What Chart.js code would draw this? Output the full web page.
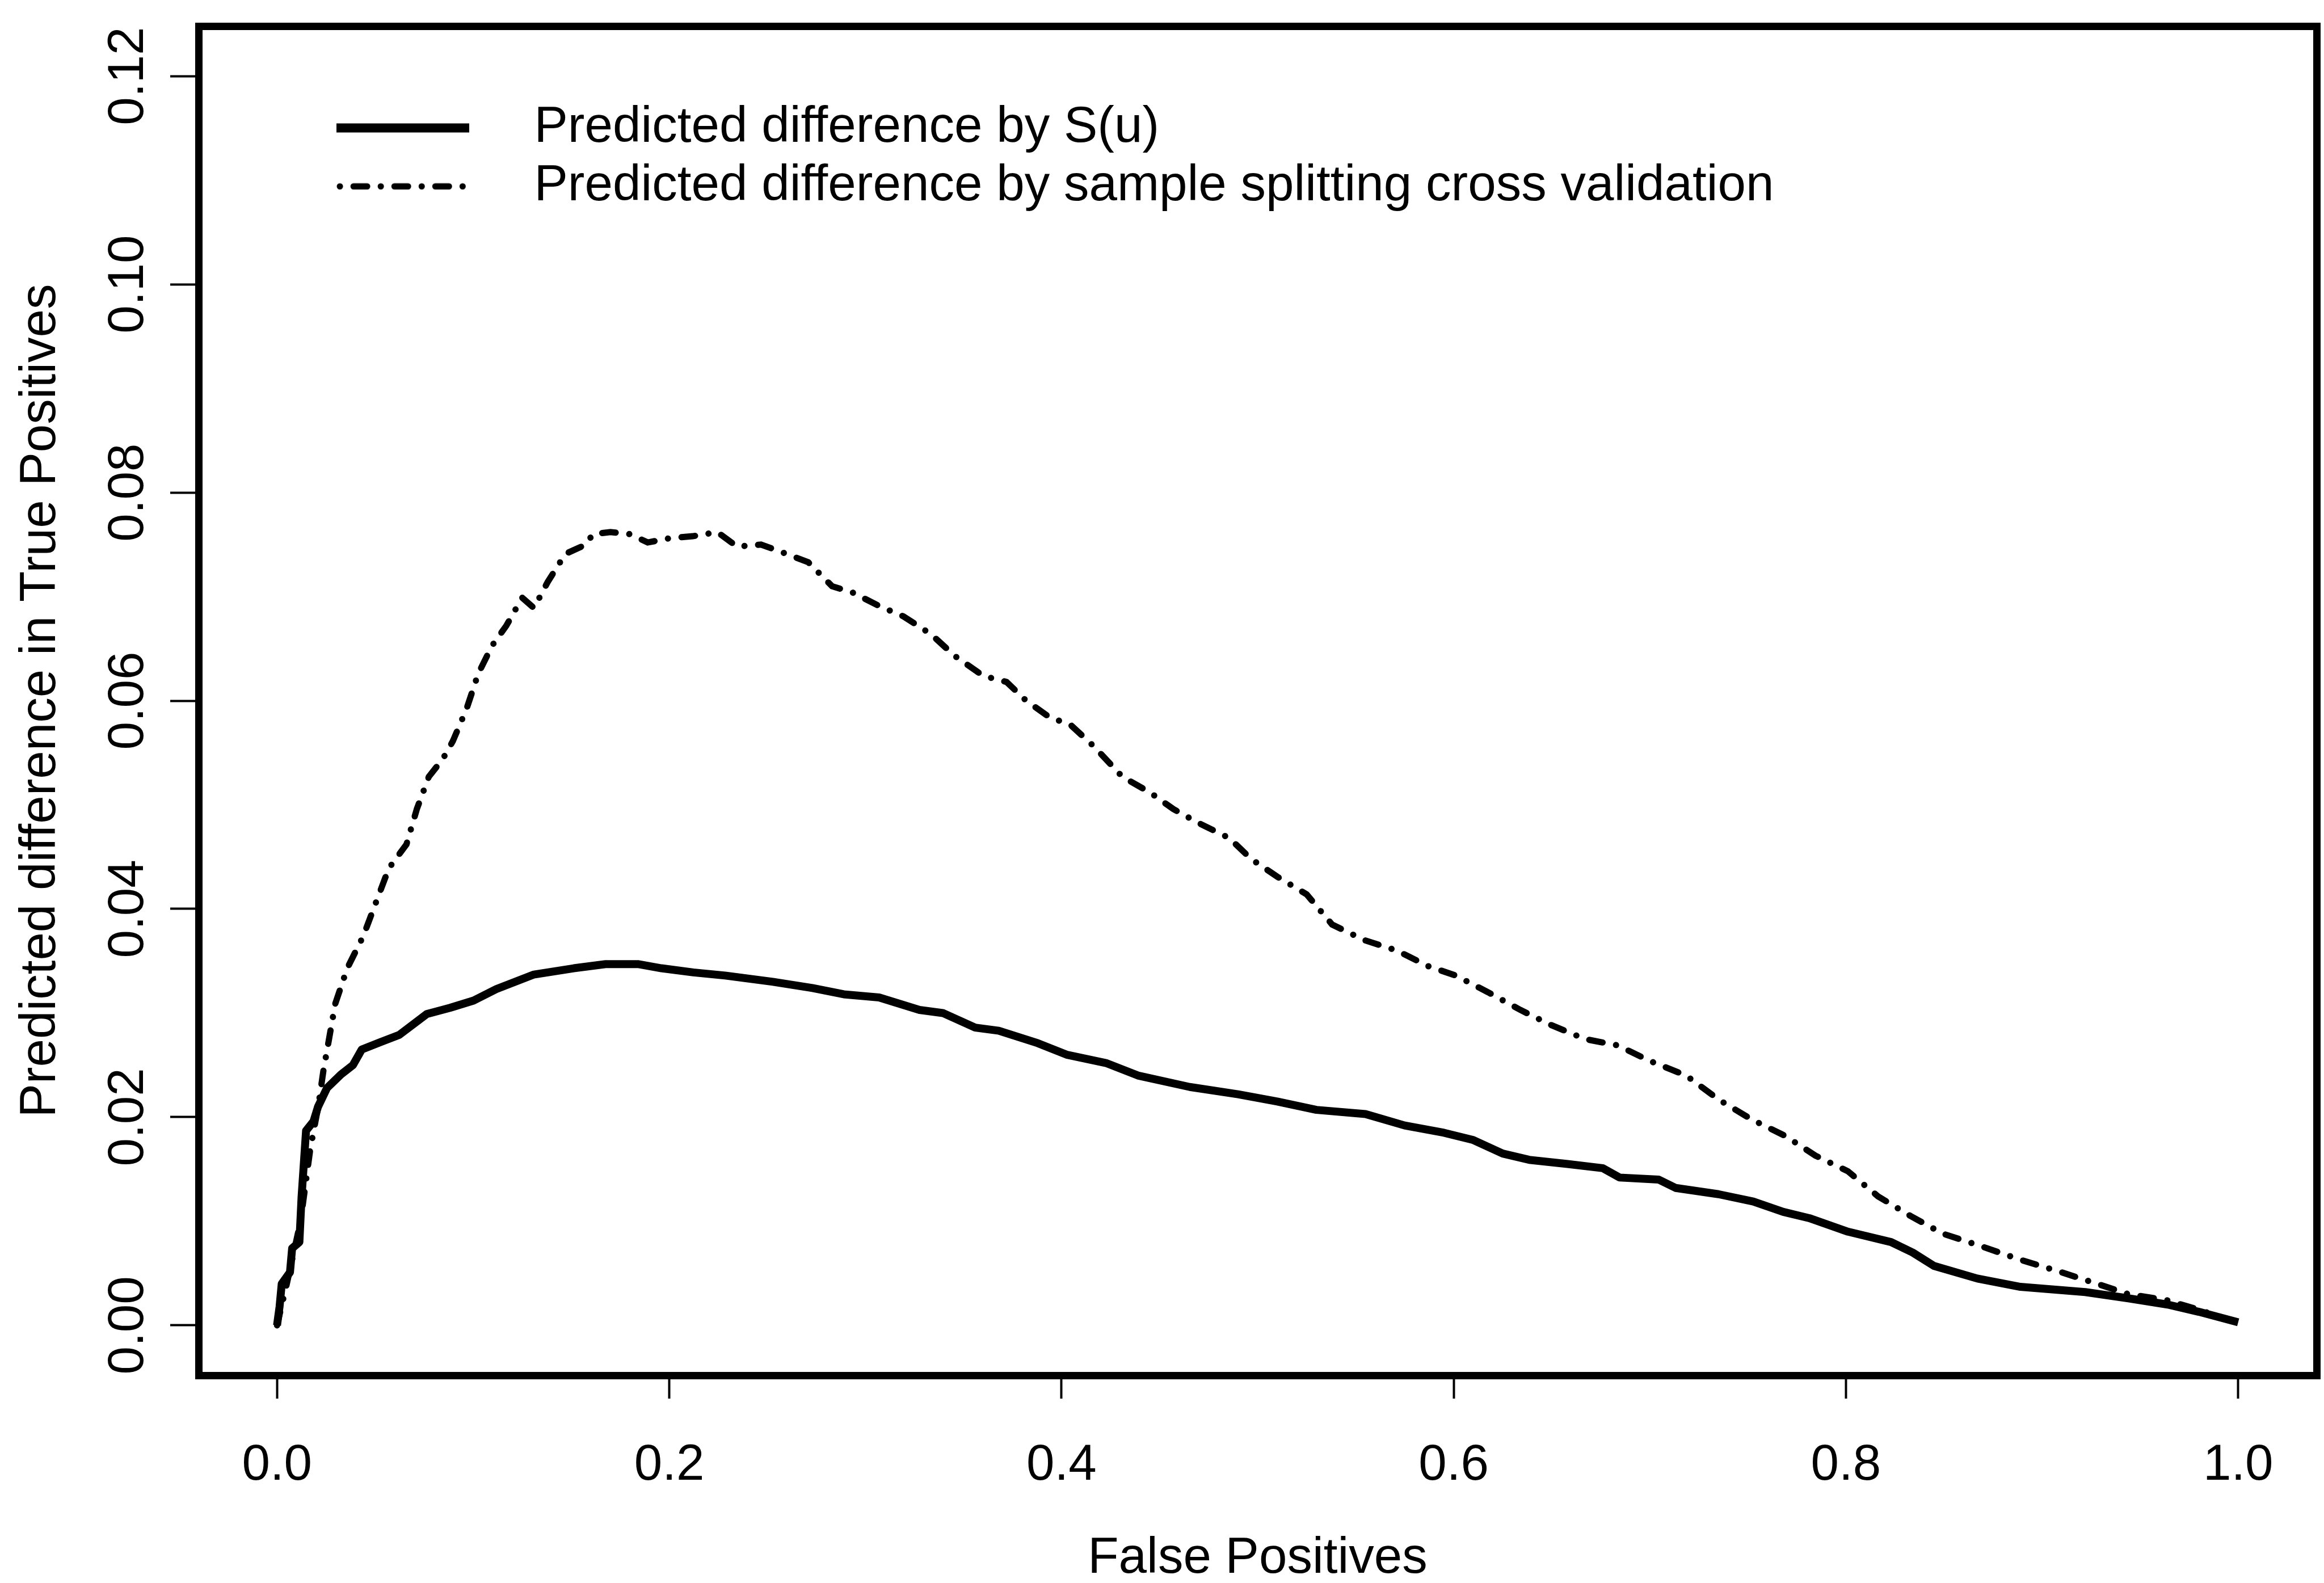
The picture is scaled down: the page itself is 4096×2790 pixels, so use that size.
<!DOCTYPE html>
<html>
<head>
<meta charset="utf-8">
<script src="https://cdn.jsdelivr.net/npm/chart.js@4.4.1/dist/chart.umd.min.js"></script>
<style>
  html, body { margin: 0; padding: 0; background: #fff; }
  canvas { display: block; }
</style>
</head>
<body>
<canvas id="roc" width="4096" height="2790"></canvas>
<script>
// values
const fpSolid = [0, 0.0013, 0.0024, 0.0066, 0.0077, 0.0114, 0.0125, 0.0148, 0.0186, 0.0209, 0.0255, 0.0326, 0.0387, 0.0432, 0.0527, 0.0623, 0.0763, 0.0882, 0.1002, 0.1118, 0.131, 0.1513, 0.1675, 0.184, 0.196, 0.2123, 0.2285, 0.2528, 0.273, 0.289, 0.307, 0.3276, 0.3395, 0.356, 0.368, 0.388, 0.4026, 0.4227, 0.439, 0.4654, 0.49, 0.51, 0.53, 0.555, 0.575, 0.595, 0.61, 0.625, 0.6385, 0.658, 0.676, 0.6846, 0.7045, 0.7132, 0.735, 0.7527, 0.768, 0.7813, 0.801, 0.823, 0.834, 0.845, 0.867, 0.889, 0.922, 0.944, 0.964, 0.98, 1.0];
const tpSolid = [0, 0.0018, 0.004, 0.0051, 0.0074, 0.008, 0.0123, 0.0187, 0.0196, 0.021, 0.0228, 0.0241, 0.025, 0.0265, 0.0272, 0.0279, 0.0299, 0.0305, 0.0312, 0.0323, 0.0337, 0.0343, 0.0347, 0.0347, 0.0343, 0.0339, 0.0336, 0.033, 0.0324, 0.0318, 0.0315, 0.0303, 0.030, 0.0286, 0.0283, 0.0271, 0.026, 0.0252, 0.024, 0.0229, 0.0222, 0.0215, 0.0207, 0.0203, 0.0192, 0.0185, 0.0178, 0.0165, 0.0159, 0.0155, 0.0151, 0.0142, 0.014, 0.0132, 0.0126, 0.0119, 0.0109, 0.0103, 0.009, 0.008, 0.007, 0.0057, 0.0045, 0.0037, 0.0032, 0.0026, 0.002, 0.0013, 0.0003];

const fpSplit = [0, 0.005, 0.012, 0.017, 0.021, 0.0236, 0.0297, 0.0358, 0.044, 0.050, 0.057, 0.066, 0.0713, 0.0774, 0.0845, 0.0896, 0.0966, 0.1026, 0.1097, 0.1169, 0.125, 0.131, 0.138, 0.147, 0.1575, 0.161, 0.170, 0.180, 0.189, 0.200, 0.212, 0.2245, 0.2346, 0.2468, 0.257, 0.2709, 0.283, 0.2934, 0.307, 0.3194, 0.3334, 0.3456, 0.360, 0.372, 0.382, 0.394, 0.4045, 0.4166, 0.431, 0.445, 0.457, 0.4694, 0.4856, 0.4967, 0.510, 0.525, 0.538, 0.5545, 0.571, 0.587, 0.601, 0.6175, 0.634, 0.649, 0.667, 0.6835, 0.700, 0.7185, 0.735, 0.7517, 0.769, 0.7845, 0.801, 0.8163, 0.833, 0.8495, 0.869, 0.889, 0.9065, 0.9263, 0.944, 0.964, 0.98, 1.0];
const tpSplit = [0, 0.004, 0.01, 0.017, 0.021, 0.0244, 0.0309, 0.0343, 0.0374, 0.0404, 0.0439, 0.0462, 0.0496, 0.0527, 0.0544, 0.0561, 0.0592, 0.0626, 0.0653, 0.0672, 0.0699, 0.0689, 0.0714, 0.0741, 0.075, 0.076, 0.0762, 0.076, 0.0752, 0.0756, 0.0758, 0.0762, 0.0748, 0.075, 0.0743, 0.0733, 0.071, 0.0704, 0.0691, 0.0681, 0.0664, 0.0643, 0.0624, 0.0618, 0.060, 0.0584, 0.0577, 0.0556, 0.0527, 0.0512, 0.0496, 0.0483, 0.0468, 0.0448, 0.0431, 0.0414, 0.0385, 0.037, 0.036, 0.0345, 0.0336, 0.032, 0.0303, 0.0289, 0.0275, 0.0269, 0.0254, 0.024, 0.0217, 0.0198, 0.0182, 0.0163, 0.0148, 0.0124, 0.0105, 0.0088, 0.0076, 0.0063, 0.0053, 0.0041, 0.003, 0.0024, 0.0015, 0.0002];

const seriesNames = ['Predicted difference by S(u)', 'Predicted difference by sample splitting cross validation'];
const xTicks = [0, 0.2, 0.4, 0.6, 0.8, 1.0];
const xTickLabels = ['0.0', '0.2', '0.4', '0.6', '0.8', '1.0'];
const yTicks = [0, 0.02, 0.04, 0.06, 0.08, 0.10, 0.12];
const yTickLabels = ['0.00', '0.02', '0.04', '0.06', '0.08', '0.10', '0.12'];
const xTitle = 'False Positives';
const yTitle = 'Predicted difference in True Positives';

const FONT = 'Liberation Sans, Arial, Helvetica, sans-serif';
const FS = 89;
const dotDash = [24, 24, 0.1, 24];

Chart.defaults.font.family = FONT;
Chart.defaults.color = '#000';

// legend samples: line on the left part, blank space before the text
function legendSample(dash) {
  const c = document.createElement('canvas');
  c.width = 304;
  c.height = 20;
  const g = c.getContext('2d');
  g.strokeStyle = '#000';
  if (dash) {
    g.lineWidth = 11;
    g.lineCap = 'round';
    g.setLineDash(dotDash);
    g.lineDashOffset = dotDash[0] + dotDash[1];
    g.beginPath(); g.moveTo(6, 10); g.lineTo(229, 10); g.stroke();
  } else {
    g.lineWidth = 16;
    g.beginPath(); g.moveTo(0, 10); g.lineTo(234, 10); g.stroke();
  }
  return c;
}

const toPts = (xs, ys) => xs.map((x, i) => ({ x: x, y: ys[i] }));

const placeLegend = {
  id: 'placeLegend',
  afterLayout(chart) {
    chart.legend.left = 579;
    chart.legend.top = 167;
  }
};

new Chart(document.getElementById('roc'), {
  type: 'scatter',
  data: {
    datasets: [
      {
        label: seriesNames[0],
        data: toPts(fpSolid, tpSolid),
        showLine: true,
        borderColor: '#000',
        borderWidth: 14,
        borderJoinStyle: 'round',
        pointRadius: 0,
        pointStyle: legendSample(false)
      },
      {
        label: seriesNames[1],
        data: toPts(fpSplit, tpSplit),
        showLine: true,
        borderColor: '#000',
        borderWidth: 11,
        borderDash: dotDash,
        borderCapStyle: 'round',
        pointRadius: 0,
        pointStyle: legendSample(true)
      }
    ]
  },
  plugins: [placeLegend],
  options: {
    responsive: false,
    animation: false,
    devicePixelRatio: 1,
    layout: { padding: { top: 46, right: 13, left: 0, bottom: 0 } },
    plugins: {
      tooltip: { enabled: false },
      legend: {
        position: 'chartArea',
        align: 'start',
        labels: {
          usePointStyle: true,
          pointStyleWidth: 304,
          padding: 14,
          color: '#000',
          font: { size: FS, family: FONT }
        }
      }
    },
    scales: {
      x: {
        type: 'linear',
        position: 'bottom',
        min: -0.04,
        max: 1.04,
        afterBuildTicks: s => { s.ticks = xTicks.map(v => ({ value: v })); },
        afterFit: s => { s.height = 366; },
        ticks: {
          callback: (v, i) => xTickLabels[i],
          padding: 74,
          maxRotation: 0,
          autoSkip: false,
          font: { size: FS, lineHeight: 1 }
        },
        grid: { drawOnChartArea: false, drawTicks: true, tickLength: 41, tickWidth: 4, tickColor: '#000', lineWidth: 13 },
        border: { display: true, color: '#000', width: 13 },
        title: { display: true, text: xTitle, font: { size: FS, lineHeight: 1 }, padding: { top: 0, bottom: -2 } }
      },
      y: {
        type: 'linear',
        position: 'left',
        min: -0.0048,
        max: 0.1248,
        afterBuildTicks: s => { s.ticks = yTicks.map(v => ({ value: v })); },
        afterFit: s => { s.width = 350; },
        ticks: {
          callback: (v, i) => yTickLabels[i],
          minRotation: 90,
          maxRotation: 90,
          crossAlign: 'center',
          padding: -14,
          autoSkip: false,
          font: { size: FS, lineHeight: 1 }
        },
        grid: { drawOnChartArea: false, drawTicks: true, tickLength: 50, tickWidth: 4, tickColor: '#000', lineWidth: 13 },
        border: { display: true, color: '#000', width: 13 },
        title: { display: true, text: yTitle, font: { size: FS, lineHeight: 1 }, padding: { top: 28, bottom: 0 } }
      },
      xTop: {
        type: 'linear',
        position: 'top',
        min: -0.04,
        max: 1.04,
        afterFit: s => { s.height = 0; },
        ticks: { display: false },
        grid: { drawOnChartArea: false, drawTicks: false, lineWidth: 13 },
        border: { display: true, color: '#000', width: 13 }
      },
      yRight: {
        type: 'linear',
        position: 'right',
        min: -0.0048,
        max: 0.1248,
        afterFit: s => { s.width = 0; },
        ticks: { display: false },
        grid: { drawOnChartArea: false, drawTicks: false, lineWidth: 13 },
        border: { display: true, color: '#000', width: 13 }
      }
    }
  }
});
</script>
</body>
</html>
